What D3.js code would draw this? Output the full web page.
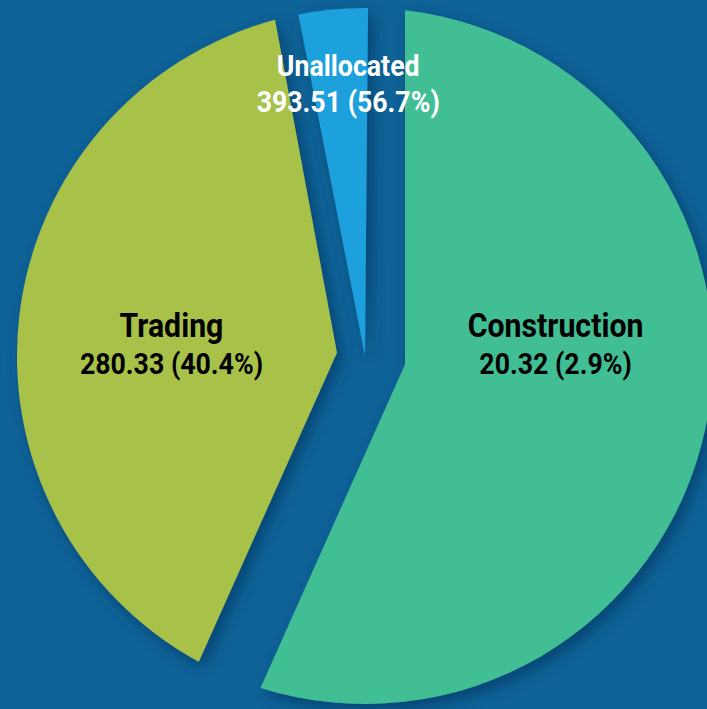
<!DOCTYPE html>
<html>
<head>
<meta charset="utf-8">
<title>Allocation</title>
<script src="https://d3js.org/d3.v7.min.js"></script>
<style>
  html, body { margin: 0; padding: 0; background: #0e6398; overflow: hidden; }
  svg { display: block; }
  .label text { font-family: Roboto, "Liberation Sans", sans-serif; font-weight: 700; }
</style>
</head>
<body>
<div id="chart"></div>
<script>
// Data
const categories = ["Unallocated", "Construction", "Trading"]
const values = [393.51, 20.32, 280.33]
const colors = ["#43be95", "#1da1dc", "#a8c24a"]
// the source chart shows these two labels on each other's slice
const labelSlot = ["Construction", "Unallocated", "Trading"]

const w = 707
const h = 709
const cx = 365
const cy = 356
const r = 348

// how far each slice's straight edges are pulled in, px
const inset = { Unallocated: 40, Construction: -3, Trading: 27 }

const total = d3.sum(values)
const rows = categories.map((c, i) => ({ name: c, value: values[i], color: colors[i] }))

const pie = d3.pie().value(d => d.value)  // default sort: biggest first, from 12 o'clock
const slices = pie(rows)
const byName = {}
slices.forEach(s => byName[s.data.name] = s)

const pt = (a, rad) => [cx + rad * Math.sin(a), cy - rad * Math.cos(a)]

const slicePath = s => {
    const o = inset[s.data.name]
    const a0 = s.startAngle
    const a1 = s.endAngle
    const mid = (a0 + a1) / 2
    const half = (a1 - a0) / 2
    // thin slice with negative inset: keep its tip on the centre
    const d = o <= 0 ? 0 : o / Math.sin(half)
    const apex = pt(mid, d)
    const da = Math.asin(o / r)
    const p = d3.path()
    p.moveTo(apex[0], apex[1])
    const start = pt(a0 + da, r)
    p.lineTo(start[0], start[1])
    p.arc(cx, cy, r, a0 + da - Math.PI / 2, a1 - da - Math.PI / 2, false)
    p.closePath()
    return p.toString()
}

const svg = d3.select("#chart")
    .append("svg")
    .attr("width", w)
    .attr("height", h)

svg.append("rect")
    .attr("width", w)
    .attr("height", h)
    .attr("fill", "#0e6398")

const defs = svg.append("defs")
defs.append("filter")
    .attr("id", "shadow")
    .attr("x", "-20%").attr("y", "-20%")
    .attr("width", "140%").attr("height", "140%")
    .append("feDropShadow")
    .attr("dx", 5)
    .attr("dy", 6)
    .attr("stdDeviation", 8)
    .attr("flood-color", "#04305a")
    .attr("flood-opacity", 0.65)

svg.append("g")
    .attr("filter", "url(#shadow)")
    .selectAll("path")
    .data(slices)
    .enter()
    .append("path")
    .attr("d", slicePath)
    .attr("fill", d => d.data.color)

// Labels
const fmtPct = v => (v / total * 100).toFixed(1) + "%"
const bigArc = d3.arc().innerRadius(r * 0.56).outerRadius(r * 0.56)
const smallArc = d3.arc().innerRadius(r * 0.775).outerRadius(r * 0.775)

const labels = svg.append("g").attr("class", "label")

rows.forEach((row, i) => {
    const s = byName[labelSlot[i]]
    const small = (s.endAngle - s.startAngle) < 0.5
    let x, y
    if (small) {
        const c = smallArc.centroid(s)
        x = cx + c[0] + 8
        y = cy + c[1]
    } else {
        const c = bigArc.centroid(s)
        x = cx + c[0]
        y = cy - 10
    }
    const fill = small ? "#ffffff" : "#000000"
    const g = labels.append("g")
    g.append("text")
        .attr("class", "name")
        .attr("x", x)
        .attr("y", small ? y - 11 : y - 9)
        .attr("text-anchor", "middle")
        .attr("font-size", small ? 30 : 34)
        .attr("fill", fill)
        .text(row.name)
    g.append("text")
        .attr("class", "val")
        .attr("x", x)
        .attr("y", small ? y + 25 : y + 28)
        .attr("text-anchor", "middle")
        .attr("font-size", 30)
        .attr("fill", fill)
        .text(row.value.toFixed(2) + " (" + fmtPct(row.value) + ")")
})

// squeeze the glyphs to a condensed look
labels.selectAll("text").each(function() {
    const len = this.getComputedTextLength()
    d3.select(this)
        .attr("textLength", len * 0.89)
        .attr("lengthAdjust", "spacingAndGlyphs")
})
</script>
</body>
</html>
